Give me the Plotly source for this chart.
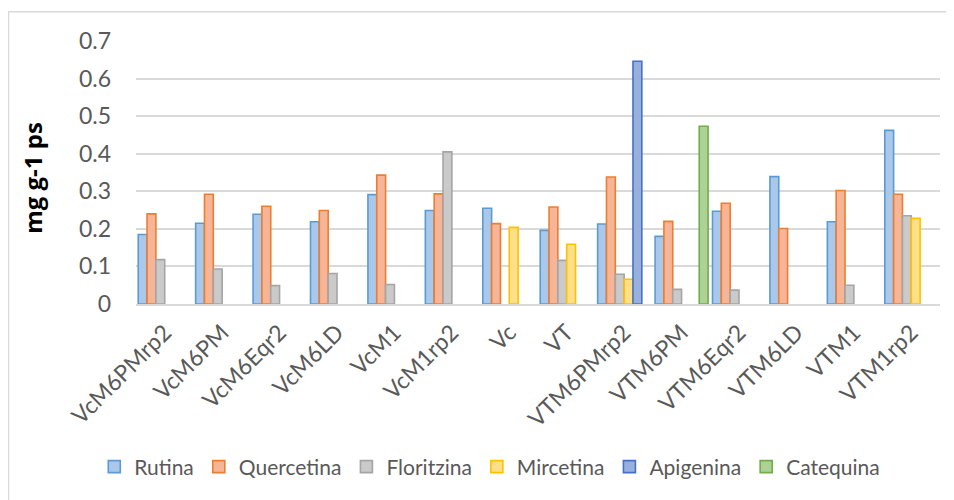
"""Flavonoid content per treatment, grouped bar chart."""

import plotly.graph_objects as go

categories = [
    "VcM6PMrp2", "VcM6PM", "VcM6Eqr2", "VcM6LD", "VcM1", "VcM1rp2", "Vc",
    "VT", "VTM6PMrp2", "VTM6PM", "VTM6Eqr2", "VTM6LD", "VTM1", "VTM1rp2",
]

rutina = [0.185, 0.215, 0.239, 0.219, 0.291, 0.249, 0.255,
          0.196, 0.213, 0.180, 0.247, 0.339, 0.219, 0.462]
quercetina = [0.240, 0.292, 0.260, 0.249, 0.343, 0.293, 0.214,
              0.258, 0.338, 0.220, 0.268, 0.201, 0.302, 0.292]
floritzina = [0.118, 0.093, 0.049, 0.081, 0.052, 0.405, None,
              0.116, 0.079, 0.039, 0.037, None, 0.050, 0.235]
mircetina = [None, None, None, None, None, None, 0.204,
             0.159, 0.066, None, None, None, None, 0.228]
apigenina = [None, None, None, None, None, None, None,
             None, 0.646, None, None, None, None, None]
catequina = [None, None, None, None, None, None, None,
             None, None, 0.473, None, None, None, None]

FONT = "Lato, 'Open Sans', sans-serif"
GREY_TEXT = "#595959"
GRID = "#D9D9D9"

# (name, values, fill, border)
SERIES = [
    ("Rutina", rutina, "#A9C8EA", "#5B9BD5"),
    ("Quercetina", quercetina, "#F6B596", "#ED7D31"),
    ("Floritzina", floritzina, "#CACACA", "#A5A5A5"),
    ("Mircetina", mircetina, "#FFDF8A", "#FFC000"),
    ("Apigenina", apigenina, "#98B0DE", "#4472C4"),
    ("Catequina", catequina, "#AED296", "#70AD47"),
]

fig = go.Figure()

for name, values, fill, border in SERIES:
    fig.add_trace(
        go.Bar(
            name=name,
            x=categories,
            y=values,
            marker={"color": fill, "line": {"color": border, "width": 1.6}},
        )
    )

# y-axis title placed by hand, like the spreadsheet layout
fig.add_annotation(
    text="<b>mg g-1 ps</b>",
    xref="paper",
    yref="paper",
    x=-0.128,
    y=0.48,
    xanchor="center",
    yanchor="middle",
    textangle=-90,
    showarrow=False,
    font={"family": "'Open Sans', sans-serif", "size": 24, "color": "black"},
)

fig.update_layout(
    width=954,
    height=500,
    plot_bgcolor="white",
    paper_bgcolor="white",
    barmode="group",
    bargap=0.077,
    bargroupgap=0,
    # the page body adds 8px, so margins are 8px smaller than on screen
    margin={"l": 128, "r": 22, "t": 33, "b": 204, "pad": 0},
    font={"family": FONT, "size": 21, "color": GREY_TEXT},
    yaxis={
        "range": [0, 0.7],
        "dtick": 0.1,
        "tickformat": ".1~f",
        "showgrid": True,
        "gridcolor": GRID,
        "gridwidth": 1.5,
        "zeroline": False,
        "showline": False,
        "ticks": "",
        "ticklabelstandoff": 24,
        "tickfont": {"family": FONT, "size": 23, "color": GREY_TEXT},
    },
    xaxis={
        "showgrid": False,
        "showline": True,
        "linecolor": GRID,
        "linewidth": 2,
        "ticks": "",
        "tickangle": -45,
        "ticklabelstandoff": 4,
        "tickfont": {"family": FONT, "size": 23, "color": GREY_TEXT},
    },
    showlegend=True,
    legend={
        "orientation": "h",
        "xref": "container",
        "yref": "container",
        "x": 0.505,
        "xanchor": "center",
        "y": 0.082,
        "yanchor": "middle",
        "font": {"family": FONT, "size": 21, "color": GREY_TEXT},
        "itemwidth": 30,
        "traceorder": "normal",
    },
    # light chart-area frame, as in the spreadsheet export
    shapes=[
        {
            "type": "rect",
            "xref": "paper",
            "yref": "paper",
            "x0": -0.1586,
            "x1": 1.06,
            "y0": -1.0,
            "y1": 1.111,
            "line": {"color": GRID, "width": 1.5},
            "fillcolor": "rgba(0,0,0,0)",
            "layer": "below",
        }
    ],
)

fig.write_html("out.html")
